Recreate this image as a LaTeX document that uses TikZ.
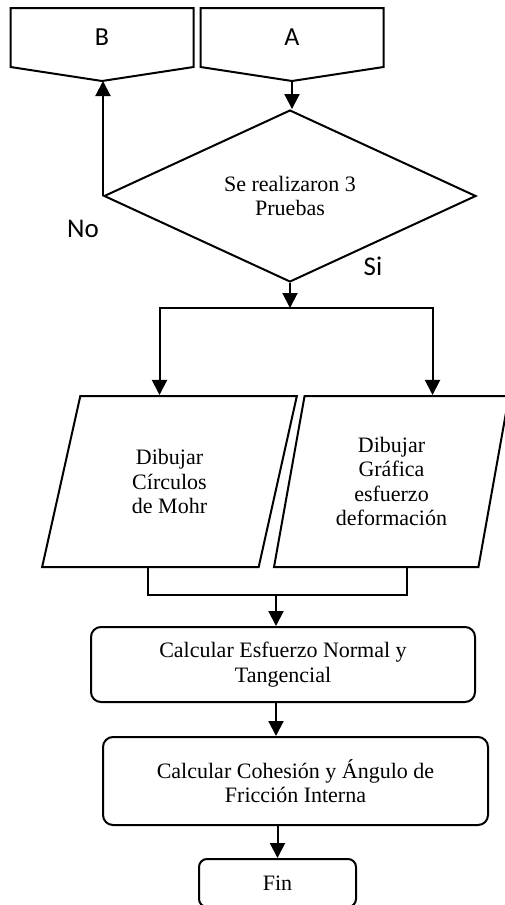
\documentclass[tikz,border=0pt]{standalone}
\usepackage{fontspec}
\setmainfont{Liberation Serif}
\newfontfamily\tagfont{Carlito}
\usetikzlibrary{arrows.meta,positioning,shapes.geometric,calc}

\begin{document}
\begin{tikzpicture}[
  x=1pt, y=-1pt,
  line width=2pt,
  >={Triangle[length=15pt,width=15pt]},
  txt/.style={font=\fontsize{22}{24.5}\selectfont, align=center, inner sep=0pt},
  tag/.style={font=\tagfont\fontsize{27}{30}\selectfont, inner sep=0pt},
  offpage/.style={minimum width=181pt, minimum height=57pt, inner sep=0pt, font=\tagfont\fontsize{26}{28}\selectfont},
  decision/.style={draw, diamond, minimum width=372pt, minimum height=146pt, txt},
  iobox/.style={draw, trapezium, trapezium left angle=76, trapezium right angle=104, trapezium stretches=true, minimum height=171pt, txt},
  process/.style={draw, rounded corners=10pt, txt},
  arrow/.style={->}
]
\useasboundingbox (0,0) rectangle (504,905);
% Connectors A and B
\node[offpage] (B) at (102,37.5) {B};
\node[offpage] (A) at (292,37.5) {A};
\foreach \c in {A,B}
  \draw (\c.north west) -- (\c.north east) -- (\c.south east) -- ($(\c.south)+(0,14)$) coordinate (\c tip) -- (\c.south west) -- cycle;
% Decision
\node[decision] (test) at (290,196) {Se realizaron 3\\Pruebas};
\draw[arrow] (Atip) -- (Atip |- test.north);
\draw[arrow] (test.west) -- (test.west |- Btip);
\node[tag] (no) at (83,229) {No};
\node[tag] (si) at (373,266) {Si};
% Outputs
\node[iobox, minimum width=255pt] (mohr) at (169.5,481.5) {Dibujar\\Círculos\\de Mohr};
\node[iobox, inner sep=-18pt, minimum width=235pt] (graph) at (391.5,481.5) {Dibujar\\Gráfica\\esfuerzo\\deformación};
\coordinate (split) at (290,308);
\draw[arrow] (test.south) -- (split);
\draw[arrow] (split) -| ([xshift=-10pt]mohr.north);
\draw[arrow] (split) -| ([xshift=41pt]graph.north);
\coordinate (join) at (276,595);
\draw ([xshift=-22pt]mohr.south) |- (join) -| ([xshift=15pt]graph.south);
% Calculations
\node[process, minimum width=384pt, minimum height=75pt] (normal) at (283,664.5) {Calcular Esfuerzo Normal y\\Tangencial};
\node[process, minimum width=385pt, minimum height=88pt, below=33pt of normal, xshift=12.5pt] (cohesion) {Calcular Cohesión y Ángulo de\\Fricción Interna};
\node[process, rounded corners=8pt, minimum width=157pt, minimum height=48pt, below=32pt of cohesion, xshift=-18pt] (fin) {Fin};
\draw[arrow] (join) -- (join |- normal.north);
\draw[arrow] (join |- normal.south) -- (join |- cohesion.north);
\draw[arrow] (cohesion.south -| fin.north) -- (fin.north);
\end{tikzpicture}
\end{document}
